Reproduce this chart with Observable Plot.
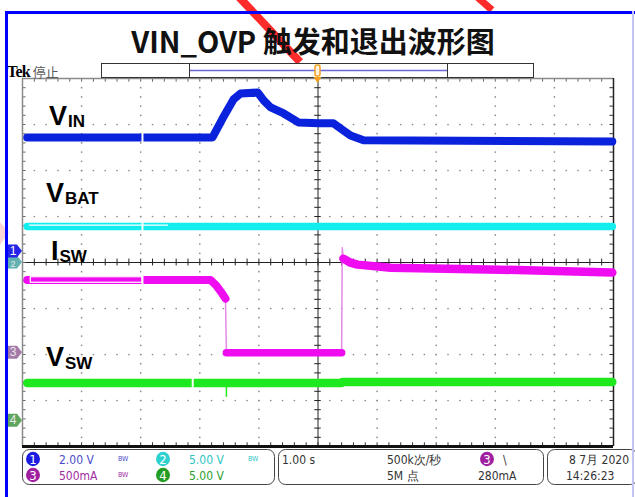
<!DOCTYPE html>
<html><head><meta charset="utf-8">
<script src="https://cdn.jsdelivr.net/npm/d3@7"></script>
<script src="https://cdn.jsdelivr.net/npm/@observablehq/plot@0.6"></script>
<style>
html,body{margin:0;padding:0;background:#fff;}
#wrap{position:relative;width:635px;height:497px;overflow:hidden;background:#fff;}
#wrap svg{position:absolute;left:0;top:0;}
#fl{position:absolute;left:5px;top:11px;width:3px;height:490px;background:#0000ff;}
#ft{position:absolute;left:5px;top:11px;width:640px;height:3px;background:#0000ff;}
#fr{position:absolute;left:632px;top:11px;width:2px;height:490px;background:#c4c4f2;}
</style></head>
<body><div id="wrap"></div>
<script>
// ---- data (time in s, trigger at 0; 1.00 s/div) ----
const vinT = [-4.92, -1.785, -1.615, -1.43, -1.31, -1.02, -0.92, -0.80, -0.58, -0.33, 0.01, 0.26, 0.43, 0.55, 0.77, 4.98];
const vinV = [4.96, 4.96, 5.78, 6.61, 6.87, 6.91, 6.57, 6.26, 6.00, 5.61, 5.57, 5.57, 5.26, 5.04, 4.83, 4.78];
const vbatT = [-4.92, 4.98];
const vbatV = [3.91, 3.91];
const iswT = [-4.92, -1.82, -1.72, -1.62, -1.565, -1.55, 0.40, 0.41, 0.43, 0.55, 0.67, 1.23, 3.09, 4.98];
const iswI = [790, 790, 728, 641, 587, 0, 0, 1141, 1022, 978, 957, 924, 902, 870];
const vswT = [-4.92, 0.40, 0.41, 4.98];
const vswV = [4.10, 4.10, 4.20, 4.20];
const vswSpikeT = [-1.55];
const vswSpikeV = [2.55];
// record gaps (s) seen in the traces
const gapT123 = [-2.97];
const gapT4 = [-2.12];
// channel settings: units per division and reference offset (divisions)
const chNames = ["1", "2", "3", "4"];
const chPerDiv = [2.00, 5.00, 500, 5.00];
const chOffset = [0.24, 0.0, -1.96, -3.44];
const chScaleLabels = ["2.00 V", "5.00 V", "500mA", "5.00 V"];
const title = "VIN_OVP 触发和退出波形图";

const toDiv = (ch, v) => chOffset[ch] + v / chPerDiv[ch];
const vin = vinT.map((t, i) => ({t, d: toDiv(0, vinV[i])}));
const vbat = vbatT.map((t, i) => ({t, d: toDiv(1, vbatV[i])}));
const isw = iswT.map((t, i) => ({t, d: toDiv(2, iswI[i])}));
const vsw = vswT.map((t, i) => ({t, d: toDiv(3, vswV[i])}));
const vswSpike = vswSpikeT.map((t, i) => ({t, d1: toDiv(3, vswV[0]), d2: toDiv(3, vswSpikeV[i])}));
const gaps = [
  ...gapT123.map(t => ({t, d: vin[0].d})),
  ...gapT123.map(t => ({t, d: vbat[0].d})),
  ...gapT123.map(t => ({t, d: isw[0].d})),
  ...gapT4.map(t => ({t, d: vsw[0].d}))
];

// graticule helpers
const majX = d3.range(-5, 5.001, 1), majY = d3.range(-4, 4.001, 1);
const minX = d3.range(-5, 5.001, 0.2).map(v => +v.toFixed(2));
const minY = d3.range(-4, 4.001, 0.2).map(v => +v.toFixed(2));
const dotsH = [], dotsV = [];
for (const y of majY) if (Math.abs(y) !== 4 && y !== 0) for (const x of minX) if (Math.abs(x) < 4.99) dotsH.push({x, y});
for (const x of majX) if (Math.abs(x) !== 5 && x !== 0) for (const y of minY) if (Math.abs(y) < 3.99) dotsV.push({x, y});

const C = {vin: "#0a22dc", vbat: "#12eeee", isw: "#f00cf0", iswThin: "#e58ae5", vsw: "#1ee81e"};

const plot = Plot.plot({
  width: 635, height: 497,
  marginLeft: 22, marginRight: 22, marginTop: 78, marginBottom: 51,
  x: {domain: [-5, 5], axis: null},
  y: {domain: [-4, 4], axis: null},
  style: {background: "transparent", overflow: "visible"},
  marks: [
    Plot.dot(dotsH, {x: "x", y: "y", r: 0.85, fill: "#8c8c8c", stroke: null}),
    Plot.dot(dotsV, {x: "x", y: "y", r: 0.85, fill: "#8c8c8c", stroke: null}),
    // center crosshair
    Plot.ruleY([0], {stroke: "#222", strokeWidth: 1}),
    Plot.ruleX([0], {stroke: "#222", strokeWidth: 1}),
    Plot.ruleX(minX, {x: d => d, y1: -0.075, y2: 0.075, stroke: "#222"}),
    Plot.ruleY(minY, {y: d => d, x1: -0.055, x2: 0.055, stroke: "#222"}),
    // border ticks
    Plot.ruleX(minX, {x: d => d, y1: 4, y2: 3.92, stroke: "#666"}),
    Plot.ruleX(minX, {x: d => d, y1: -4, y2: -3.92, stroke: "#333"}),
    Plot.ruleY(minY, {y: d => d, x1: -5, x2: -4.94, stroke: "#666"}),
    Plot.ruleY(minY, {y: d => d, x1: 5, x2: 4.94, stroke: "#333"}),
    // borders
    Plot.ruleX([-5], {stroke: "#8a8a8a", strokeWidth: 1.5}),
    Plot.ruleY([4], {stroke: "#8a8a8a", strokeWidth: 1.5}),
    Plot.ruleX([5], {stroke: "#222", strokeWidth: 1.5}),
    Plot.ruleY([-4], {stroke: "#111", strokeWidth: 3}),
    // traces
    Plot.line(vbat, {x: "t", y: "d", stroke: C.vbat, strokeWidth: 7.5}),
    Plot.ruleY([vbat[0]], {y: d => d.d + 0.03, x1: -4.88, x2: -2.53, stroke: "#fff", strokeWidth: 1.2}),
    Plot.line(vin, {x: "t", y: "d", stroke: C.vin, strokeWidth: 8, strokeLinejoin: "round"}),
    Plot.line(isw, {x: "t", y: "d", stroke: C.iswThin, strokeWidth: 1.5}),
    Plot.line(isw.slice(0, 5), {x: "t", y: "d", stroke: C.isw, strokeWidth: 8, strokeLinejoin: "round"}),
    Plot.rect([isw[0]], {x1: -4.86, x2: -2.97, y1: d => d.d - 0.06, y2: d => d.d + 0.06, fill: "none", stroke: "#fff", strokeWidth: 1.2}),
    Plot.line(isw.slice(5, 7), {x: "t", y: "d", stroke: C.isw, strokeWidth: 7.5}),
    Plot.line(isw.slice(8), {x: "t", y: "d", stroke: C.isw, strokeWidth: 8.5, strokeLinejoin: "round"}),
    Plot.ruleX(vswSpike, {x: "t", y1: "d1", y2: "d2", stroke: C.vsw, strokeWidth: 1.5}),
    Plot.line(vsw, {x: "t", y: "d", stroke: C.vsw, strokeWidth: 8.5}),
    Plot.ruleX(gaps, {x: "t", y1: d => d.d - 0.11, y2: d => d.d + 0.11, stroke: "#fff", strokeWidth: 2})
  ]
});
const wrap = document.getElementById("wrap");
wrap.appendChild(plot);
for (const id of ["fl", "ft", "fr"]) { const d = document.createElement("div"); d.id = id; wrap.appendChild(d); }

// ---------- decorations drawn in pixel space from the plot's scales ----------
const sx = plot.scale("x"), sy = plot.scale("y");
const svg = d3.select(plot);
const under = svg.insert("g", ":first-child");
// watermark strokes
under.append("line").attr("x1", 238).attr("y1", -4).attr("x2", 300).attr("y2", 62).attr("stroke", "#ff2a2a").attr("stroke-width", 8);
under.append("line").attr("x1", 476).attr("y1", -4).attr("x2", 492).attr("y2", 10).attr("stroke", "#ff2a2a").attr("stroke-width", 7);
under.append("path").attr("d", "M0,222 L9,232 L0,245 Z").attr("fill", "#ffd6d6");

const g = svg.append("g").attr("text-anchor", "start");

// title
g.append("text").attr("x", 313).attr("y", 53).attr("text-anchor", "middle")
  .attr("font-family", "'Noto Sans CJK SC', sans-serif").attr("font-weight", "bold").attr("font-size", 29).attr("fill", "#111").text(title);

// Tek header
const tek = g.append("text").attr("x", 7).attr("y", 77);
tek.append("tspan").attr("font-family", "'Liberation Serif', serif").attr("font-weight", "bold").attr("font-size", 16).attr("fill", "#000").attr("letter-spacing", -0.8).text("Tek");
tek.append("tspan").attr("dx", 3).attr("font-family", "'Noto Sans CJK SC', sans-serif").attr("font-size", 13).attr("fill", "#5a5a5a").text("停止");

// record scrollbar
g.append("rect").attr("x", 101.5).attr("y", 63.5).attr("width", 432).attr("height", 14).attr("fill", "#fff").attr("stroke", "#333");
g.append("line").attr("x1", 189.5).attr("x2", 189.5).attr("y1", 63.5).attr("y2", 77.5).attr("stroke", "#333");
g.append("line").attr("x1", 447.5).attr("x2", 447.5).attr("y1", 63.5).attr("y2", 77.5).attr("stroke", "#333");
g.append("line").attr("x1", 190).attr("x2", 447).attr("y1", 70.5).attr("y2", 70.5).attr("stroke", "#6868d8").attr("stroke-width", 1.5);
const tx = sx.apply(0);
g.append("rect").attr("x", tx - 2.5).attr("y", 65).attr("width", 5).attr("height", 11).attr("rx", 2).attr("fill", "#fff3e0").attr("stroke", "#f4a020").attr("stroke-width", 1.5);
g.append("path").attr("d", `M${tx - 4},77 L${tx + 4},77 L${tx},83 Z`).attr("fill", "#f4a020");

// channel reference markers
const mkColors = ["#2424e6", "#62b2b2", "#a47aa8", "#5ea65e"];
const mkOrder = [1, 0, 2, 3];
for (const i of mkOrder) {
  const y = sy.apply(chOffset[i]);
  g.append("path").attr("d", `M7,${y - 6.5} L17,${y - 6.5} L22,${y} L17,${y + 6.5} L7,${y + 6.5} Z`).attr("fill", mkColors[i]);
  g.append("text").attr("x", 13).attr("y", i === 1 ? y + 5 : y + 4).attr("text-anchor", "middle").attr("font-family", "'Liberation Sans', sans-serif")
    .attr("font-size", i === 1 ? 9 : 12).attr("fill", i === 0 ? "#fff" : "#e8e8e8").text(chNames[i]);
}

// trace labels
function label(x, y, main, sub, dy) {
  const t = g.append("text").attr("x", x).attr("y", y).attr("font-family", "'Liberation Sans', Arial, sans-serif").attr("font-weight", "bold").attr("fill", "#000");
  t.append("tspan").attr("font-size", 27).text(main);
  t.append("tspan").attr("font-size", 17).attr("dy", dy).attr("dx", 1).text(sub);
}
label(49, 125, "V", "IN", 2);
label(46, 202, "V", "BAT", 2);
label(51, 260, "I", "SW", 2);
label(46, 366, "V", "SW", 3);

// status area
const st = g.append("g").attr("font-family", "'Liberation Sans Narrow', 'DejaVu Sans Condensed', sans-serif").attr("font-size", 12);
st.append("rect").attr("x", 22.5).attr("y", 449.5).attr("width", 252).attr("height", 35).attr("rx", 7).attr("fill", "none").attr("stroke", "#444");
st.append("rect").attr("x", 278.5).attr("y", 449.5).attr("width", 265).attr("height", 35).attr("rx", 7).attr("fill", "none").attr("stroke", "#444");
st.append("rect").attr("x", 547.5).attr("y", 449.5).attr("width", 90).attr("height", 35).attr("rx", 7).attr("fill", "none").attr("stroke", "#444");
const circC = ["#1c1ce0", "#2fd0d0", "#a020a0", "#229c22"];
const txtC = ["#4b4bc8", "#2cc4c4", "#a02aa0", "#2ea02e"];
const pos = [[33, 459], [163, 459], [33, 475], [163, 475]];
for (let i = 0; i < 4; i++) {
  const [cx, cy] = pos[i];
  st.append("ellipse").attr("cx", cx).attr("cy", cy).attr("rx", 7).attr("ry", 7.2).attr("fill", circC[i]);
  st.append("text").attr("x", cx).attr("y", cy + 4.5).attr("text-anchor", "middle").attr("fill", "#fff").attr("font-size", 13).text(chNames[i]);
  st.append("text").attr("x", cx + 26).attr("y", cy + 4.5).attr("fill", txtC[i]).text(chScaleLabels[i]);
  if (i !== 3) st.append("text").attr("x", cx + 85).attr("y", cy + 2).attr("fill", txtC[i]).attr("font-size", 7).text("BW");
}
st.append("text").attr("x", 282).attr("y", 463.5).attr("fill", "#333").text("1.00 s");
st.append("text").attr("x", 387).attr("y", 463.5).attr("fill", "#333").text("500k次/秒");
st.append("text").attr("x", 387).attr("y", 479.5).attr("fill", "#333").text("5M 点");
st.append("ellipse").attr("cx", 487).attr("cy", 459).attr("rx", 7).attr("ry", 7.2).attr("fill", circC[2]);
st.append("text").attr("x", 487).attr("y", 463.5).attr("text-anchor", "middle").attr("fill", "#fff").attr("font-size", 13).text("3");
st.append("text").attr("x", 503).attr("y", 463.5).attr("fill", "#333").text("\\");
st.append("text").attr("x", 478).attr("y", 479.5).attr("fill", "#333").text("280mA");
st.append("text").attr("x", 629).attr("y", 463.5).attr("text-anchor", "end").attr("fill", "#333").text("8 7月 2020");
st.append("text").attr("x", 566).attr("y", 479.5).attr("fill", "#333").text("14:26:23");
</script></body></html>
